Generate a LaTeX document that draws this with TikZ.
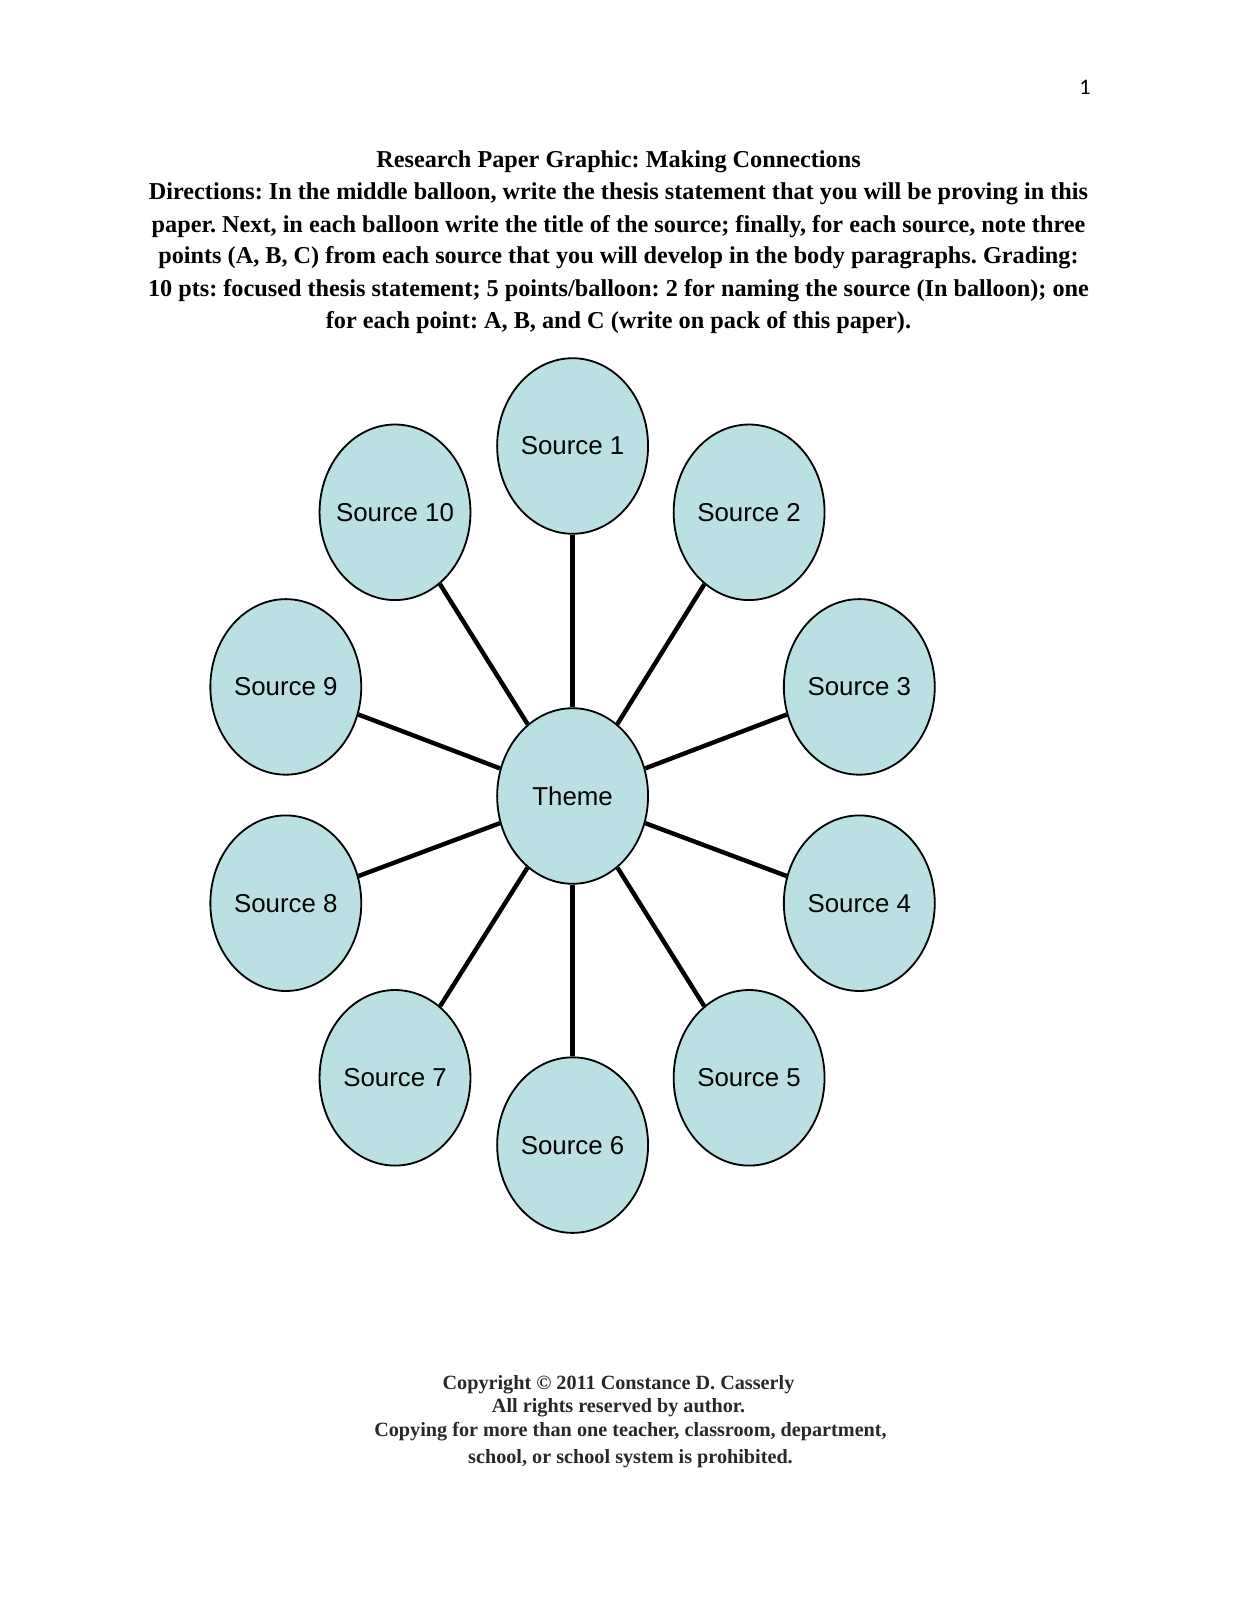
\documentclass[tikz,border=0pt]{standalone}
\usepackage{fontspec}
\setmainfont{Liberation Serif}
\setsansfont{Liberation Sans}
\newfontfamily\calibrifont{Carlito}
\usetikzlibrary{shapes.geometric}
\definecolor{balloon}{RGB}{187,224,227}
\definecolor{foottext}{RGB}{40,40,40}
\begin{document}
\frenchspacing
\begin{tikzpicture}[x=0.495pt,y=-0.495pt,
  balloonnode/.style={ellipse, draw=black, line width=0.9pt, fill=balloon,
    minimum width=74.7pt, minimum height=86.9pt, inner sep=0pt,
    font=\sffamily\fontsize{12.8}{14}\selectfont},
  conn/.style={line width=2.2pt, draw=black},
  headline/.style={anchor=base, font=\bfseries\fontsize{12}{14}\selectfont, inner sep=0pt},
  footline/.style={anchor=base, text=foottext, font=\bfseries\fontsize{10}{12}\selectfont, inner sep=0pt}]
\path[use as bounding box, fill=white] (0,0) rectangle (1237,1600);
% page number
\node[font=\calibrifont\fontsize{11}{13}\selectfont] (pnum) at (1085,87) {1};
% heading
\node[headline] (h1) at (618.5,168) {Research Paper Graphic: Making Connections};
\node[headline] (h2) at (618.5,200) {Directions: In the middle balloon, write the thesis statement that you will be proving in this};
\node[headline] (h3) at (618.5,232.5) {paper. Next, in each balloon write the title of the source; finally, for each source, note three};
\node[headline] (h4) at (618.5,264) {points (A, B, C) from each source that you will develop in the body paragraphs. Grading:};
\node[headline] (h5) at (618.5,297) {10 pts: focused thesis statement; 5 points/balloon: 2 for naming the source (In balloon); one};
\node[headline] (h6) at (618.5,328.5) {for each point: A, B, and C (write on pack of this paper).};
% balloons
\node[balloonnode] (theme) at (572.6,796) {\makebox[0pt]{Theme}};
\node[balloonnode] (s1) at (572.6,446) {\makebox[0pt]{Source 1}};
\node[balloonnode] (s2) at (749.1,512.3) {\makebox[0pt]{Source 2}};
\node[balloonnode] (s3) at (859.3,686.9) {\makebox[0pt]{Source 3}};
\node[balloonnode] (s4) at (859.3,903.2) {\makebox[0pt]{Source 4}};
\node[balloonnode] (s5) at (749.1,1077.8) {\makebox[0pt]{Source 5}};
\node[balloonnode] (s6) at (572.6,1145.1) {\makebox[0pt]{Source 6}};
\node[balloonnode] (s7) at (395,1077.8) {\makebox[0pt]{Source 7}};
\node[balloonnode] (s8) at (285.8,903.2) {\makebox[0pt]{Source 8}};
\node[balloonnode] (s9) at (285.8,686.9) {\makebox[0pt]{Source 9}};
\node[balloonnode] (s10) at (395,512.3) {\makebox[0pt]{Source 10}};
\foreach \s in {s1,s2,s3,s4,s5,s6,s7,s8,s9,s10}{\draw[conn] (theme) -- (\s);}
% footer
\node[footline] (f1) at (618.5,1389.5) {Copyright \textcopyright\ 2011 Constance D. Casserly};
\node[footline] (f2) at (618.5,1412.5) {All rights reserved by author.};
\node[footline] (f3) at (630.5,1436.5) {Copying for more than one teacher, classroom, department,};
\node[footline] (f4) at (630.5,1463.5) {school, or school system is prohibited.};
\end{tikzpicture}
\end{document}
